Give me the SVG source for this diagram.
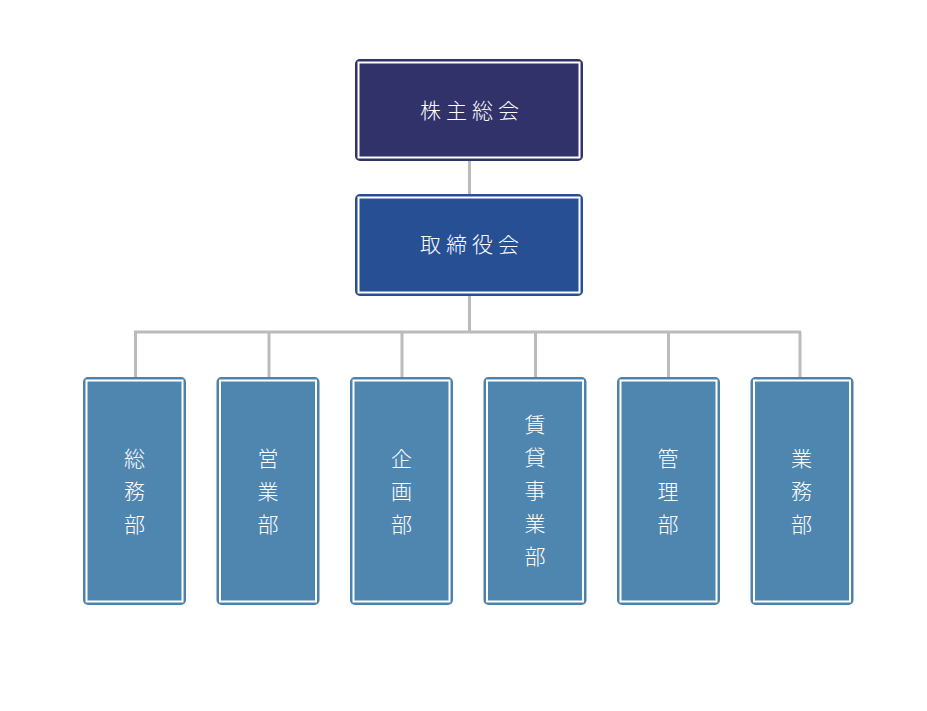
<svg xmlns="http://www.w3.org/2000/svg" width="927" height="711" viewBox="0 0 927 711">
<style>
.conn{stroke:#bbbbbb;stroke-width:3;fill:none}
.inner{fill:none;stroke:#ffffff;stroke-width:2}
.t{font-family:"Noto Sans CJK JP","Noto Sans",sans-serif;font-size:21px;font-weight:300;fill:#ffffff;text-anchor:middle;dominant-baseline:central}
.top{fill:#31326a;stroke:#31326a;stroke-width:2}
.board{fill:#275094;stroke:#275094;stroke-width:2}
.dept{fill:#4f86b0;stroke:#4b81ac;stroke-width:2}
</style>
<rect width="927" height="711" fill="#ffffff"/>
<g id="connectors">
<line class="conn" x1="469.5" y1="161" x2="469.5" y2="195"/>
<line class="conn" x1="469.5" y1="296" x2="469.5" y2="332"/>
<line class="conn" x1="134" y1="332" x2="801" y2="332"/>
<line class="conn" x1="135.5" y1="332" x2="135.5" y2="378"/>
<line class="conn" x1="269" y1="332" x2="269" y2="378"/>
<line class="conn" x1="402" y1="332" x2="402" y2="378"/>
<line class="conn" x1="535.5" y1="332" x2="535.5" y2="378"/>
<line class="conn" x1="668.5" y1="332" x2="668.5" y2="378"/>
<line class="conn" x1="800" y1="332" x2="800" y2="378"/>
</g>
<g id="n-kabunushi">
<rect class="top" x="356" y="60" width="226" height="100" rx="4"/>
<rect class="inner" x="358.5" y="62.5" width="221" height="95"/>
<text class="t" x="472" y="109" letter-spacing="5">株主総会</text>
</g>
<g id="n-torishimari">
<rect class="board" x="356" y="195" width="226" height="100" rx="4"/>
<rect class="inner" x="358.5" y="197.5" width="221" height="95"/>
<text class="t" x="472" y="243" letter-spacing="5">取締役会</text>
</g>
<g id="n-somu">
<rect class="dept" x="84" y="378" width="101" height="226" rx="4"/>
<rect class="inner" x="86.5" y="380.5" width="96" height="221"/>
<text class="t" x="134.5" y="457">総</text>
<text class="t" x="134.5" y="490">務</text>
<text class="t" x="134.5" y="523">部</text>
</g>
<g id="n-eigyo">
<rect class="dept" x="217.5" y="378" width="101" height="226" rx="4"/>
<rect class="inner" x="220" y="380.5" width="96" height="221"/>
<text class="t" x="268" y="457">営</text>
<text class="t" x="268" y="490">業</text>
<text class="t" x="268" y="523">部</text>
</g>
<g id="n-kikaku">
<rect class="dept" x="351" y="378" width="101" height="226" rx="4"/>
<rect class="inner" x="353.5" y="380.5" width="96" height="221"/>
<text class="t" x="401.5" y="457">企</text>
<text class="t" x="401.5" y="490">画</text>
<text class="t" x="401.5" y="523">部</text>
</g>
<g id="n-chintai">
<rect class="dept" x="484.5" y="378" width="101" height="226" rx="4"/>
<rect class="inner" x="487" y="380.5" width="96" height="221"/>
<text class="t" x="535" y="423">賃</text>
<text class="t" x="535" y="456">貸</text>
<text class="t" x="535" y="489">事</text>
<text class="t" x="535" y="522">業</text>
<text class="t" x="535" y="555">部</text>
</g>
<g id="n-kanri">
<rect class="dept" x="618" y="378" width="101" height="226" rx="4"/>
<rect class="inner" x="620.5" y="380.5" width="96" height="221"/>
<text class="t" x="668" y="457">管</text>
<text class="t" x="668" y="490">理</text>
<text class="t" x="668" y="523">部</text>
</g>
<g id="n-gyomu">
<rect class="dept" x="751.5" y="378" width="101" height="226" rx="4"/>
<rect class="inner" x="754" y="380.5" width="96" height="221"/>
<text class="t" x="801.5" y="457">業</text>
<text class="t" x="801.5" y="490">務</text>
<text class="t" x="801.5" y="523">部</text>
</g>
</svg>
